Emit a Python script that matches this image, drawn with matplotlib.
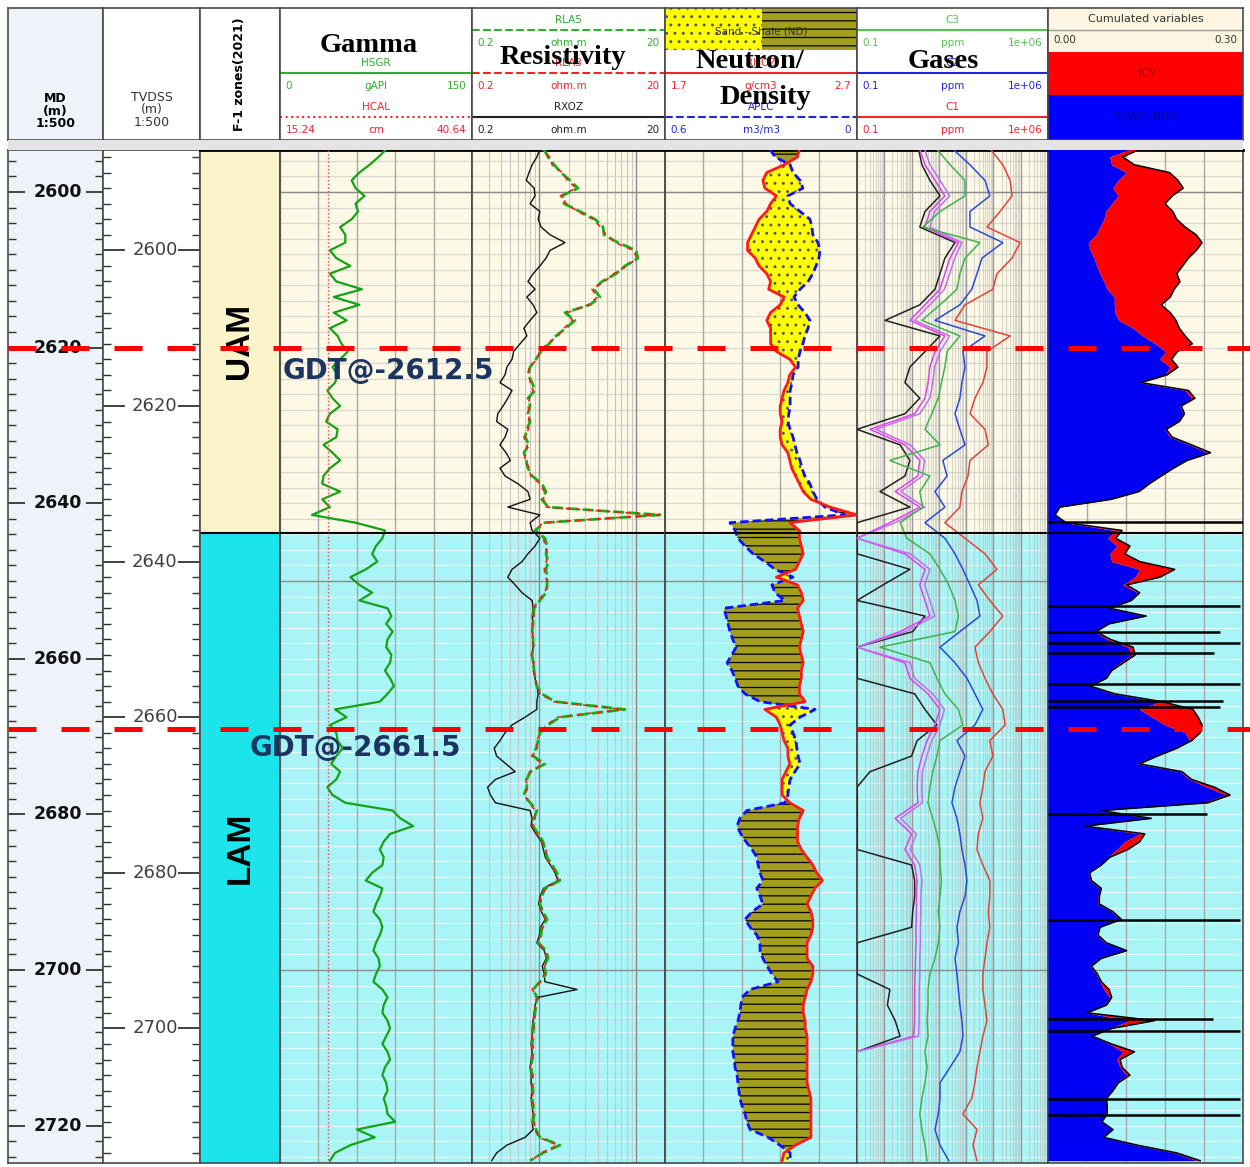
import numpy as np
import matplotlib.pyplot as plt
from matplotlib.patches import Rectangle
from matplotlib.ticker import MultipleLocator, LogLocator, FixedLocator

# ---------------- data (depth in MD, metres) ----------------
DEPTH = np.arange(2594.5, 2725.0, 1.0)
GAS_DEPTH = np.arange(2594.5, 2725.0, 2.0)
MD_MINUS_TVDSS = 7.5

ZONE_NAMES = ["UAM", "LAM"]
ZONE_TOP = [2594.6, 2643.8]
ZONE_BASE = [2643.8, 2724.8]
GDT_TVDSS = [2612.5, 2661.5]
MD_TICKS = [2600, 2620, 2640, 2660, 2680, 2700, 2720]
TVDSS_TICKS = [2600, 2620, 2640, 2660, 2680, 2700]

GR = [83, 77, 70, 62, 56, 59, 66, 59, 61, 56,
      47, 51, 51, 39, 44, 55, 39, 44, 64, 42,
      62, 42, 52, 39, 45, 48, 53, 47, 41, 45,
      43, 37, 41, 47, 39, 36, 45, 44, 34, 41,
      47, 39, 34, 33, 47, 33, 39, 25, 59, 82,
      80, 75, 72, 76, 67, 55, 62, 72, 62, 84,
      87, 83, 88, 84, 83, 87, 86, 82, 86, 89,
      84, 78, 43, 52, 39, 44, 45, 49, 44, 40,
      47, 44, 37, 41, 51, 88, 94, 104, 86, 81,
      78, 81, 80, 72, 67, 80, 78, 75, 73, 78,
      80, 78, 75, 73, 77, 78, 75, 73, 80, 84,
      81, 80, 84, 86, 83, 80, 84, 86, 82, 80,
      83, 84, 81, 83, 84, 90, 60, 74, 55, 43,
      39]
HCAL_DEPTH = [2594.6, 2724.8]
HCAL = [21.6, 21.6]

RLA5 = [1.11, 1.23, 1.42, 1.67, 2.07, 2.51, 1.71, 1.80, 2.63, 3.77,
        4.56, 4.67, 6.52, 10.0, 10.5, 7.7, 6.21, 4.45, 3.67, 4.24,
        3.34, 1.84, 2.33, 1.88, 1.48, 1.26, 1.04, 0.92, 0.80, 0.76,
        0.84, 0.90, 0.76, 0.80, 0.76, 0.80, 0.74, 0.71, 0.78, 0.69,
        0.73, 0.76, 0.84, 1.06, 1.17, 1.06, 1.23, 17.8, 1.14, 0.90,
        1.14, 1.20, 1.17, 1.23, 1.17, 1.20, 1.20, 1.17, 1.01, 0.88,
        0.86, 0.86, 0.84, 0.86, 0.86, 0.84, 0.86, 0.88, 0.90, 0.94,
        1.06, 1.45, 7.7, 1.63, 1.23, 1.01, 0.97, 0.92, 0.86, 1.14,
        0.80, 0.74, 0.74, 0.69, 0.80, 0.94, 0.88, 0.86, 0.97, 1.09,
        1.14, 1.20, 1.35, 1.52, 1.63, 1.14, 1.06, 1.01, 1.09, 1.20,
        1.06, 1.04, 0.97, 1.17, 1.23, 1.11, 1.17, 1.01, 0.86, 0.94,
        0.92, 0.90, 0.88, 0.86, 0.86, 0.84, 0.86, 0.84, 0.82, 0.84,
        0.84, 0.86, 0.84, 0.86, 0.88, 0.86, 0.92, 1.01, 1.63, 1.09,
        0.80]
RLA3 = [1.05, 1.28, 1.35, 1.72, 1.95, 2.40, 1.65, 1.90, 2.50, 3.60,
        4.30, 4.90, 6.10, 9.40, 10.2, 8.1, 5.90, 4.70, 3.50, 4.00,
        3.20, 1.95, 2.20, 1.80, 1.55, 1.20, 1.00, 0.95, 0.77, 0.79,
        0.80, 0.86, 0.79, 0.76, 0.79, 0.77, 0.77, 0.69, 0.75, 0.72,
        0.70, 0.79, 0.81, 1.02, 1.12, 1.10, 1.18, 17.0, 1.08, 0.92,
        1.10, 1.15, 1.21, 1.18, 1.12, 1.16, 1.24, 1.12, 0.98, 0.86,
        0.88, 0.84, 0.86, 0.84, 0.88, 0.82, 0.88, 0.86, 0.92, 0.92,
        1.02, 1.40, 7.2, 1.55, 1.18, 1.04, 0.93, 0.95, 0.83, 1.08,
        0.82, 0.72, 0.76, 0.70, 0.78, 0.91, 0.90, 0.84, 0.94, 1.05,
        1.18, 1.15, 1.30, 1.48, 1.58, 1.18, 1.02, 1.04, 1.05, 1.16,
        1.09, 1.00, 0.99, 1.13, 1.19, 1.14, 1.12, 1.03, 0.84, 0.96,
        0.90, 0.92, 0.86, 0.88, 0.84, 0.86, 0.84, 0.86, 0.80, 0.86,
        0.82, 0.88, 0.82, 0.88, 0.86, 0.88, 0.90, 0.98, 1.55, 1.05,
        0.82]
RXOZ = [1.01, 0.94, 0.84, 0.78, 0.73, 0.88, 0.90, 0.80, 1.01, 0.97,
        1.04, 1.29, 1.84, 1.29, 1.17, 1.01, 0.86, 0.76, 0.90, 0.74,
        0.86, 0.94, 0.80, 0.69, 0.74, 0.63, 0.54, 0.52, 0.46, 0.44,
        0.39, 0.52, 0.47, 0.42, 0.37, 0.36, 0.47, 0.44, 0.39, 0.45,
        0.50, 0.39, 0.44, 0.60, 0.76, 0.80, 0.47, 1.01, 0.80, 0.84,
        1.01, 0.90, 0.76, 0.66, 0.52, 0.47, 0.56, 0.66, 0.84, 0.86,
        0.84, 0.86, 0.84, 0.86, 0.86, 0.84, 0.86, 0.88, 0.90, 0.94,
        0.97, 0.94, 0.94, 0.71, 0.52, 0.44, 0.39, 0.34, 0.36, 0.45,
        0.56, 0.35, 0.29, 0.31, 0.35, 0.80, 0.84, 0.82, 0.92, 1.05,
        1.10, 1.15, 1.30, 1.45, 1.55, 1.10, 1.02, 0.98, 1.05, 1.15,
        1.02, 1.00, 0.94, 1.12, 1.18, 1.07, 1.12, 1.14, 2.45, 0.98,
        0.90, 0.88, 0.86, 0.84, 0.84, 0.82, 0.84, 0.82, 0.80, 0.82,
        0.82, 0.84, 0.82, 0.84, 0.86, 0.84, 0.86, 0.71, 0.46, 0.36,
        0.32]

RHOZ = [2.40, 2.39, 2.32, 2.23, 2.21, 2.22, 2.28, 2.25, 2.23, 2.19,
        2.17, 2.15, 2.13, 2.13, 2.17, 2.19, 2.23, 2.25, 2.24, 2.32,
        2.30, 2.25, 2.23, 2.25, 2.25, 2.25, 2.28, 2.35, 2.38, 2.35,
        2.34, 2.32, 2.31, 2.30, 2.30, 2.31, 2.30, 2.30, 2.31, 2.34,
        2.35, 2.36, 2.38, 2.40, 2.42, 2.46, 2.56, 2.70, 2.35, 2.40,
        2.40, 2.41, 2.42, 2.40, 2.38, 2.28, 2.39, 2.41, 2.42, 2.39,
        2.40, 2.41, 2.42, 2.41, 2.40, 2.41, 2.42, 2.41, 2.41, 2.40,
        2.40, 2.43, 2.22, 2.28, 2.30, 2.31, 2.32, 2.34, 2.34, 2.35,
        2.33, 2.31, 2.31, 2.31, 2.35, 2.42, 2.40, 2.39, 2.39, 2.39,
        2.41, 2.44, 2.47, 2.49, 2.52, 2.48, 2.46, 2.44, 2.46, 2.47,
        2.47, 2.46, 2.44, 2.44, 2.44, 2.47, 2.47, 2.46, 2.44, 2.43,
        2.42, 2.42, 2.43, 2.43, 2.44, 2.44, 2.44, 2.44, 2.44, 2.44,
        2.44, 2.45, 2.46, 2.46, 2.46, 2.46, 2.46, 2.46, 2.38, 2.32,
        2.31]
APLC = [0.272, 0.256, 0.209, 0.200, 0.178, 0.169, 0.216, 0.209, 0.178, 0.147,
        0.141, 0.138, 0.122, 0.116, 0.119, 0.128, 0.138, 0.153, 0.178, 0.197,
        0.184, 0.163, 0.147, 0.153, 0.163, 0.169, 0.178, 0.184, 0.184, 0.200,
        0.203, 0.209, 0.209, 0.209, 0.213, 0.216, 0.209, 0.200, 0.194, 0.188,
        0.178, 0.172, 0.163, 0.147, 0.138, 0.125, 0.100, 0.038, 0.397, 0.381,
        0.372, 0.350, 0.325, 0.288, 0.256, 0.200, 0.266, 0.256, 0.225, 0.416,
        0.409, 0.403, 0.397, 0.388, 0.378, 0.391, 0.406, 0.391, 0.381, 0.372,
        0.350, 0.303, 0.131, 0.178, 0.209, 0.200, 0.191, 0.188, 0.184, 0.178,
        0.194, 0.209, 0.213, 0.216, 0.225, 0.344, 0.366, 0.375, 0.363, 0.347,
        0.328, 0.313, 0.309, 0.303, 0.294, 0.313, 0.303, 0.294, 0.328, 0.350,
        0.334, 0.313, 0.303, 0.303, 0.294, 0.281, 0.266, 0.247, 0.334, 0.359,
        0.363, 0.366, 0.372, 0.381, 0.388, 0.388, 0.388, 0.384, 0.381, 0.375,
        0.372, 0.369, 0.366, 0.359, 0.350, 0.344, 0.334, 0.278, 0.241, 0.209,
        0.209]

# gases, ppm (sampled every 2 m)
C1 = [7800, 2.2e4, 4.1e4, 4.8e4, 1.74e4, 5800, 9.5e4, 4.8e4, 1.35e4, 9500,
      910, 390, 4.1e4, 5800, 5800, 4100, 2100, 1380, 4900, 6500,
      1380, 1170, 700, 590, 166, 910, 4900, 1.35e4, 2800, 7400,
      2.2e4, 7400, 2100, 2800, 4900, 9500, 2.2e4, 2.7e4, 7400, 9500,
      4900, 4100, 3200, 4100, 2800, 2500, 4100, 7400, 7400, 6500,
      7400, 5800, 4900, 4100, 4100, 4900, 5800, 4100, 3200, 2500,
      2100, 1600, 760, 2500, 1780, 2500]
C2 = [330, 1380, 4900, 7400, 1380, 1380, 2.2e4, 3800, 2500, 1600,
      590, 72, 4900, 760, 910, 700, 590, 390, 590, 910,
      140, 200, 72, 166, 31, 166, 390, 760, 1380, 2500,
      3200, 590, 110, 390, 1070, 2100, 4100, 2100, 460, 910,
      590, 390, 300, 460, 590, 700, 910, 1070, 910, 590,
      460, 520, 390, 460, 520, 590, 700, 760, 590, 257,
      110, 110, 95, 72, 110, 230]
C3 = [85, 257, 910, 910, 110, 26, 3200, 910, 590, 460,
      110, 24, 590, 200, 166, 125, 95, 55, 31, 110,
      1.6, 47, 20, 26, 3.8, 6.7, 47, 110, 230, 390,
      520, 390, 0.7, 47, 85, 166, 520, 760, 110, 85,
      60, 47, 40, 60, 85, 110, 110, 125, 110, 95,
      110, 95, 72, 47, 40, 40, 37, 40, 31, 37,
      31, 24, 20, 24, 31, 37]
IC4 = [20, 31, 72, 166, 47, 31, 520, 257, 166, 110,
       31, 8.7, 166, 72, 47, 40, 31, 13, 0.3, 5.7,
       20, 17, 2.5, 20, 1.6, 0.1, 5.7, 31, 20, 31,
       47, 3.8, 0.1, 5.7, 8.7, 40, 110, 72, 37, 24,
       17, 16, 17, 2.5, 10, 5.7, 13, 16, 15, 15,
       14.5, 14.5, 14, 13.5, 13, 13, 13, 12, 0.1, 0.1,
       0.1, 0.1, 0.1, 0.1, 0.1, 0.1]
NC4 = [30, 47, 110, 250, 70, 47, 700, 380, 250, 160,
       47, 13, 250, 110, 70, 60, 47, 20, 0.5, 9,
       30, 25, 4, 30, 2.5, 0.1, 9, 47, 30, 47,
       70, 6, 0.1, 9, 13, 60, 160, 110, 55, 36,
       25, 24, 25, 4, 15, 9, 20, 24, 22, 22,
       21, 21, 20, 20, 19, 19, 19, 18, 0.1, 0.1,
       0.1, 0.1, 0.1, 0.1, 0.1, 0.1]
C5 = [18, 24, 47, 110, 31, 20, 390, 166, 110, 72,
      20, 1.07, 110, 31, 8.7, 5.7, 20, 5.7, 0.1, 3.8,
      8.7, 5.7, 0.7, 8.7, 0.1, 0.1, 0.1, 8.7, 0.9, 0.1,
      31, 11, 0.1, 0.1, 0.1, 13, 31, 85, 16, 10,
      0.3, 0.1, 0.1, 0.1, 0.1, 0.1, 10, 13, 13, 11,
      10, 0.1, 0.1, 0.1, 1.6, 1.3, 2.5, 3.8, 0.1, 0.1,
      0.1, 0.1, 0.1, 0.1, 0.1, 0.1]

# cumulated variables (fractions)
BVWE = [0.126, 0.095, 0.098, 0.121, 0.108, 0.100, 0.108, 0.098, 0.089, 0.086,
        0.080, 0.074, 0.062, 0.065, 0.071, 0.075, 0.080, 0.086, 0.091, 0.102,
        0.102, 0.103, 0.109, 0.131, 0.146, 0.165, 0.181, 0.172, 0.188, 0.180,
        0.141, 0.211, 0.221, 0.203, 0.208, 0.200, 0.180, 0.188, 0.218, 0.245,
        0.212, 0.191, 0.172, 0.154, 0.138, 0.095, 0.018, 0.011, 0.026, 0.103,
        0.092, 0.106, 0.095, 0.098, 0.141, 0.134, 0.115, 0.138, 0.126, 0.095,
        0.149, 0.092, 0.072, 0.091, 0.123, 0.129, 0.111, 0.095, 0.088, 0.065,
        0.100, 0.172, 0.141, 0.160, 0.180, 0.211, 0.218, 0.195, 0.165, 0.138,
        0.203, 0.218, 0.245, 0.274, 0.238, 0.080, 0.157, 0.057, 0.141, 0.118,
        0.106, 0.092, 0.080, 0.062, 0.065, 0.080, 0.077, 0.077, 0.098, 0.111,
        0.080, 0.075, 0.088, 0.121, 0.080, 0.065, 0.074, 0.080, 0.086, 0.095,
        0.088, 0.060, 0.126, 0.095, 0.068, 0.095, 0.115, 0.106, 0.111, 0.121,
        0.105, 0.098, 0.088, 0.091, 0.089, 0.083, 0.098, 0.086, 0.134, 0.195,
        0.229]
HCV = [0.015, 0.020, 0.035, 0.066, 0.092, 0.108, 0.083, 0.082, 0.103, 0.112,
       0.131, 0.154, 0.175, 0.163, 0.145, 0.132, 0.118, 0.117, 0.103, 0.086,
       0.072, 0.085, 0.088, 0.071, 0.065, 0.057, 0.018, 0.018, 0.012, 0.003,
       0.002, 0.005, 0.005, 0.002, 0.002, 0.002, 0.002, 0.003, 0.003, 0.005,
       0.002, 0.002, 0.002, 0.002, 0.002, 0.002, 0.0, 0.0, 0.002, 0.011,
       0.012, 0.020, 0.023, 0.043, 0.054, 0.038, 0.006, 0.003, 0.002, 0.0,
       0.002, 0.002, 0.002, 0.005, 0.008, 0.005, 0.005, 0.003, 0.002, 0.0,
       0.003, 0.003, 0.082, 0.071, 0.057, 0.023, 0.003, 0.003, 0.003, 0.003,
       0.003, 0.003, 0.011, 0.006, 0.008, 0.002, 0.002, 0.0, 0.008, 0.023,
       0.017, 0.003, 0.002, 0.002, 0.002, 0.002, 0.002, 0.002, 0.002, 0.002,
       0.0, 0.002, 0.002, 0.0, 0.002, 0.002, 0.002, 0.002, 0.008, 0.003,
       0.002, 0.0, 0.038, 0.003, 0.0, 0.003, 0.018, 0.005, 0.003, 0.005,
       0.003, 0.002, 0.002, 0.0, 0.002, 0.0, 0.002, 0.0, 0.003, 0.003,
       0.005]
SPIKE_MD = [2642.4, 2653.2, 2656.5, 2658.0, 2659.3, 2663.2, 2665.4,
            2666.2, 2680.0, 2693.6, 2706.3, 2707.8, 2716.6, 2718.6]
SPIKE_BVWE = [0.300, 0.295, 0.265, 0.295, 0.255, 0.295, 0.269,
              0.265, 0.245, 0.295, 0.254, 0.295, 0.295, 0.295]

# ---------------- layout ----------------
W, H = 1250, 1167
COL_X = [8, 103, 200, 280, 472, 665, 857, 1048, 1243]
TOP_MD, BASE_MD = 2594.6, 2724.8
TRACK_BG = ["#FDF9E6", "#A9F4F6"]
GRID_MINOR = ["#DCD9CE", "#E4FAFB"]
ZONE_COLORS = ["#FBF3C9", "#1BE4EB"]
GREEN, RED, BLUE = "#2DB02D", "#F0242B", "#2323E0"

plt.rcParams["hatch.linewidth"] = 0.9
fig = plt.figure(figsize=(W / 100, H / 100), dpi=100)


def px_axes(x0, y0, x1, y1):
    return fig.add_axes([x0 / W, 1 - y1 / H, (x1 - x0) / W, (y1 - y0) / H])


def spines(ax, color="#4A4A4A", lw=1.2):
    for s in ax.spines.values():
        s.set_color(color)
        s.set_linewidth(lw)


def header(x0, x1, bg="white"):
    ax = px_axes(x0, 8, x1, 140)
    ax.set_xlim(0, 1)
    ax.set_ylim(140, 8)
    ax.set_facecolor(bg)
    ax.set_xticks([])
    ax.set_yticks([])
    spines(ax)
    return ax


def curve_head(ax, y, name, unit, lo, hi, color, ls="-"):
    kw = dict(color=color, fontsize=7.5, va="center")
    ax.text(0.5, y - 10, name, ha="center", **kw)
    ax.plot([0, 1], [y, y], color=color, ls=ls, lw=1.5)
    ax.text(0.03, y + 13, lo, ha="left", **kw)
    ax.text(0.5, y + 13, unit, ha="center", **kw)
    ax.text(0.97, y + 13, hi, ha="right", **kw)


def big_title(ax, x, y, s):
    ax.text(x, y, s, ha="center", va="center", fontsize=20.5, fontweight="bold",
            family="Liberation Serif", color="black", zorder=5)


def track(x0, x1):
    ax = px_axes(x0, 150, x1, 1163)
    ax.set_ylim(BASE_MD, TOP_MD)
    for top, base, c, gc in zip(ZONE_TOP, ZONE_BASE, TRACK_BG, GRID_MINOR):
        ax.axhspan(top, base, color=c, lw=0, zorder=0)
        rows = np.arange(np.ceil(top / 2) * 2, base, 2)
        ax.hlines(rows, 0, 1, transform=ax.get_yaxis_transform(), colors=gc,
                  lw=0.9, zorder=0.5)
    ax.yaxis.set_major_locator(MultipleLocator(50))
    ax.grid(axis="y", which="major", color="#8A8A8A", lw=1.0)
    ax.axhline(ZONE_BASE[0], color="black", lw=1.5, zorder=6)
    spines(ax)
    ax.spines["top"].set_color("black")
    ax.spines["top"].set_linewidth(2)
    return ax


def hide_ticks(ax):
    ax.tick_params(which="both", left=False, right=False, bottom=False, top=False,
                   labelleft=False, labelbottom=False, labeltop=False, labelright=False)


# grey strip between header and data
fig.add_artist(Rectangle((COL_X[0] / W, 1 - 150 / H), (COL_X[-1] - COL_X[0]) / W, 10 / H,
                         transform=fig.transFigure, color="#E4E4E4", lw=0))

# ---------------- headers ----------------
h = header(8, 103, "#EEF3F9")
h.text(0.5, 111, "MD\n(m)\n1:500", ha="center", va="center", fontsize=9,
       fontweight="bold", linespacing=0.95)
h = header(103, 200)
h.text(0.5, 110, "TVDSS\n(m)\n1:500", ha="center", va="center", fontsize=9,
       color="#333333", linespacing=0.95)
h = header(200, 280)
h.text(0.5, 74, "F-1 zones(2021)", rotation=90, ha="center", va="center",
       fontsize=9, fontweight="bold")

h = header(280, 472)
curve_head(h, 73, "HSGR", "gAPI", "0", "150", GREEN)
curve_head(h, 117, "HCAL", "cm", "15.24", "40.64", RED, ls=":")
big_title(h, 0.46, 45, "Gamma")

h = header(472, 665)
curve_head(h, 30, "RLA5", "ohm.m", "0.2", "20", GREEN, ls="--")
curve_head(h, 73, "RLA3", "ohm.m", "0.2", "20", RED, ls="--")
curve_head(h, 117, "RXOZ", "ohm.m", "0.2", "20", "#222222")
big_title(h, 0.47, 58, "Resistivity")

h = header(665, 857)
h.add_patch(Rectangle((0, 8), 0.505, 42, facecolor="#FFFF00", edgecolor="#555555",
                      hatch="..", lw=0))
h.add_patch(Rectangle((0.505, 8), 0.495, 42, facecolor="#A39E1E", edgecolor="black",
                      hatch="--", lw=0))
h.text(0.5, 32, "Sand - Shale (ND)", ha="center", va="center", fontsize=7.5, color="#333333")
curve_head(h, 73, "RHOZ", "g/cm3", "1.7", "2.7", RED)
curve_head(h, 117, "APLC", "m3/m3", "0.6", "0", BLUE, ls="--")
big_title(h, 0.44, 62, "Neutron/")
big_title(h, 0.52, 97, "Density")

h = header(857, 1048)
curve_head(h, 30, "C3", "ppm", "0.1", "1e+06", "#55C455")
curve_head(h, 73, "C2", "ppm", "0.1", "1e+06", BLUE)
curve_head(h, 117, "C1", "ppm", "0.1", "1e+06", RED)
big_title(h, 0.45, 62, "Gases")

h = header(1048, 1243, "#FBF5E1")
h.text(0.5, 19, "Cumulated variables", ha="center", va="center", fontsize=8, color="#333333")
h.plot([0, 1], [30, 30], color="#999999", lw=1)
h.text(0.03, 40, "0.00", ha="left", va="center", fontsize=7.5, color="#333333")
h.text(0.97, 40, "0.30", ha="right", va="center", fontsize=7.5, color="#333333")
h.add_patch(Rectangle((0, 52), 1, 43, facecolor="#FF0000", lw=0))
h.add_patch(Rectangle((0, 95), 1, 45, facecolor="#0000FF", lw=0))
h.text(0.5, 73, "HCV", ha="center", va="center", fontsize=7.5, color="#A00000")
h.text(0.5, 117, "BVWE_INDO", ha="center", va="center", fontsize=7.5, color="#000090")

# ---------------- depth columns ----------------
ax = px_axes(8, 150, 103, 1163)
ax.set_facecolor("#EEF3F9")
ax.set_ylim(BASE_MD, TOP_MD)
ax.set_xticks([])
ax.yaxis.set_major_locator(FixedLocator(MD_TICKS))
ax.yaxis.set_minor_locator(MultipleLocator(2))
ax.tick_params(axis="y", which="both", direction="in", left=True, right=True,
               labelleft=False, color="#333333")
ax.tick_params(axis="y", which="major", length=12, width=1.3)
ax.tick_params(axis="y", which="minor", length=6, width=1.0)
for v in MD_TICKS:
    ax.text(0.78, v, str(v), transform=ax.get_yaxis_transform(), ha="right",
            va="center", fontsize=12.5, fontweight="bold", color="#111111")
spines(ax)

ax = px_axes(103, 150, 200, 1163)
ax.set_ylim(BASE_MD - MD_MINUS_TVDSS, TOP_MD - MD_MINUS_TVDSS)
ax.set_xticks([])
ax.yaxis.set_major_locator(FixedLocator(TVDSS_TICKS))
ax.yaxis.set_minor_locator(MultipleLocator(2))
ax.tick_params(axis="y", which="both", direction="in", left=True, right=True,
               labelleft=False, color="#333333")
ax.tick_params(axis="y", which="major", length=16, width=1.3)
ax.tick_params(axis="y", which="minor", length=6, width=1.0)
for v in TVDSS_TICKS:
    ax.text(0.77, v, str(v), transform=ax.get_yaxis_transform(), ha="right",
            va="center", fontsize=13, color="#404040")
spines(ax)

# ---------------- zones ----------------
ax = px_axes(200, 150, 280, 1163)
ax.set_ylim(BASE_MD, TOP_MD)
ax.set_xlim(0, 1)
ax.set_xticks([])
ax.set_yticks([])
for name, top, base, c in zip(ZONE_NAMES, ZONE_TOP, ZONE_BASE, ZONE_COLORS):
    ax.axhspan(top, base, color=c, lw=0)
    ax.text(0.5, (top + base) / 2, name, rotation=90, ha="center", va="center",
            fontsize=24, fontweight="bold", family="Liberation Sans")
ax.axhline(ZONE_BASE[0], color="black", lw=1.5)
spines(ax)
ax.spines["top"].set_color("black")
ax.spines["top"].set_linewidth(2)

# ---------------- gamma ----------------
ax = track(280, 472)
ax.set_xlim(0, 150)
ax.xaxis.set_major_locator(MultipleLocator(30))
ax.grid(axis="x", color="#A8A8A8", lw=1)
ax.plot(GR, DEPTH, color="#14A314", lw=1.6, zorder=4)
axc = ax.twiny()
axc.set_xlim(15.24, 40.64)
axc.plot(HCAL, HCAL_DEPTH, color="#FF4040", ls=":", lw=1)
axc.axis("off")
hide_ticks(ax)

# ---------------- resistivity ----------------
ax = track(472, 665)
ax.set_xscale("log")
ax.set_xlim(0.2, 20)
ax.xaxis.set_major_locator(LogLocator(10))
ax.xaxis.set_minor_locator(LogLocator(10, subs=np.arange(2, 10)))
ax.grid(axis="x", which="major", color="#8A8A8A", lw=1)
ax.grid(axis="x", which="minor", color="#C8C8C8", lw=0.8)
ax.plot(RXOZ, DEPTH, color="#111111", lw=1.0, zorder=3)
ax.plot(RLA5, DEPTH, color="#14B014", lw=2.0, ls=(0, (4, 1.5)), zorder=4)
ax.plot(RLA3, DEPTH, color="#F02020", lw=1.2, ls=(2, (3, 3)), zorder=4)
hide_ticks(ax)

# ---------------- neutron / density ----------------
ax = track(665, 857)
ax.set_xlim(1.7, 2.7)
ax.xaxis.set_major_locator(FixedLocator(np.linspace(1.7, 2.7, 6)))
ax.grid(axis="x", color="#A8A8A8", lw=1)
rho = np.array(RHOZ)
neu = 1.7 + (0.6 - np.array(APLC)) / 0.6  # neutron on density scale
ax.fill_betweenx(DEPTH, rho, neu, where=rho <= neu, interpolate=True,
                 facecolor="#FFFF00", edgecolor="#555555", hatch="..", lw=0, zorder=2)
ax.fill_betweenx(DEPTH, rho, neu, where=rho > neu, interpolate=True,
                 facecolor="#A39E1E", edgecolor="black", hatch="--", lw=0, zorder=2)
ax.plot(neu, DEPTH, color="#1010FF", lw=2, ls=(0, (3, 1.5)), zorder=4)
ax.plot(rho, DEPTH, color="#FF1A1A", lw=2, zorder=4)
hide_ticks(ax)

# ---------------- gases ----------------
ax = track(857, 1048)
ax.set_xscale("log")
ax.set_xlim(0.1, 1e6)
ax.xaxis.set_major_locator(LogLocator(10, numticks=20))
ax.xaxis.set_minor_locator(LogLocator(10, subs=np.arange(2, 10), numticks=20))
ax.grid(axis="x", which="major", color="#9A9A9A", lw=1)
ax.grid(axis="x", which="minor", color="#B8B8B8", lw=0.8, alpha=0.55)
for vals, c in [(C5, "#202020"), (IC4, "#E040F0"), (NC4, "#C070E8"),
                (C3, "#3CB44B"), (C2, "#2A4BD8"), (C1, "#E0453A")]:
    ax.plot(vals, GAS_DEPTH, color=c, lw=1.1, zorder=4)
hide_ticks(ax)

# ---------------- cumulated ----------------
ax = track(1048, 1243)
ax.set_xlim(0, 0.3)
ax.xaxis.set_major_locator(MultipleLocator(0.06))
ax.grid(axis="x", color="#A8A8A8", lw=1)
bv = np.array(BVWE)
tot = bv + np.array(HCV)
ax.fill_betweenx(DEPTH, 0, bv, color="#0000F5", lw=0, zorder=3)
ax.fill_betweenx(DEPTH, bv, tot, color="#FF0000", lw=0, zorder=3)
ax.plot(tot, DEPTH, color="black", lw=1.1, zorder=4)
ax.hlines(SPIKE_MD, 0, SPIKE_BVWE, color="black", lw=1.8, zorder=4)
hide_ticks(ax)

# ---------------- GDT markers ----------------
ov = px_axes(8, 150, 1250, 1163)
ov.set_ylim(BASE_MD, TOP_MD)
ov.set_xlim(0, 1)
ov.axis("off")
label_x = [0.2214, 0.1948]
label_dy = [3.0, 2.4]
for g, lx, dy in zip(GDT_TVDSS, label_x, label_dy):
    md = g + MD_MINUS_TVDSS
    ov.axhline(md, color="#FF0000", lw=3.6, ls=(0, (5.6, 5)), zorder=10)
    ov.text(lx, md + dy, f"GDT@-{g}", ha="left", va="center", fontsize=20,
            fontweight="bold", color="#1B3560", zorder=11)

fig.savefig("out.png", dpi=100)
